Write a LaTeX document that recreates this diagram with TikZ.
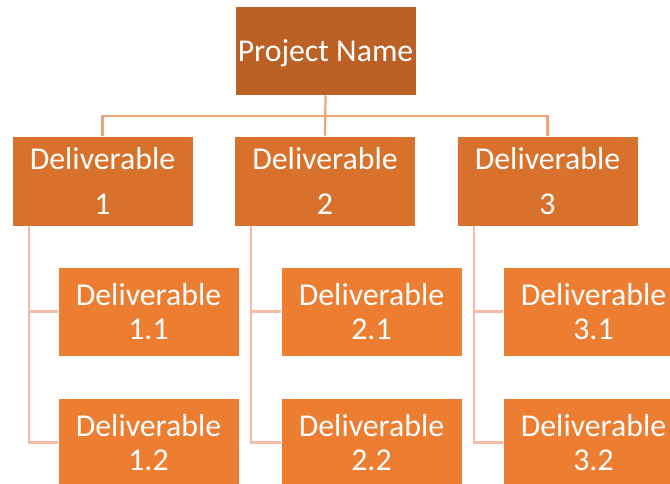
\documentclass[tikz,border=0pt]{standalone}
\usepackage{fontspec}
\setmainfont{Carlito}
\definecolor{rootc}{HTML}{BB6125}
\definecolor{lvlone}{HTML}{D8712B}
\definecolor{lvltwo}{HTML}{ED7D31}
\definecolor{conntop}{HTML}{F2A378}
\definecolor{connlow}{HTML}{F6BBA2}
\tikzset{
  box/.style={rectangle, draw=white, line width=0.8pt, text=white, align=center,
    minimum width=181pt, minimum height=89pt, inner sep=0pt},
  rootbox/.style={box, fill=rootc, text depth=0pt, font=\fontsize{31.8}{35}\selectfont},
  onebox/.style={box, fill=lvlone, minimum height=90pt, font=\fontsize{31.8}{45}\selectfont},
  twobox/.style={box, fill=lvltwo, font=\fontsize{31.8}{34}\selectfont},
  conn/.style={draw=conntop, line width=2.2pt},
  spine/.style={draw=connlow, line width=2.2pt}
}
\begin{document}
\begin{tikzpicture}[x=1pt,y=-1pt]
\useasboundingbox (0,0) rectangle (670,483);
\fill[white] (0,0) rectangle (670,483);
\coordinate (bus) at (325,116);
\coordinate (s1) at (29,226);
\coordinate (s2) at (251,226);
\coordinate (s3) at (474,226);
\node[rootbox] (root) at (325.5,50.5) {Project Name};
\node[onebox] (d1) at (102.5,181) {Deliverable\\1};
\node[onebox] (d2) at (325,181) {Deliverable\\2};
\node[onebox] (d3) at (547.5,181) {Deliverable\\3};
\node[twobox] (d11) at (148.5,311.5) {Deliverable\\1.1};
\node[twobox] (d12) at (148.5,442.5) {Deliverable\\1.2};
\node[twobox] (d21) at (371.5,311.5) {Deliverable\\2.1};
\node[twobox] (d22) at (371.5,442.5) {Deliverable\\2.2};
\node[twobox] (d31) at (593.5,311.5) {Deliverable\\3.1};
\node[twobox] (d32) at (593.5,442.5) {Deliverable\\3.2};
\draw[conn] (root.south) -- (d2.north);
\draw[conn] (d1.north) |- (bus) -| (d3.north);
\draw[spine] (s1) |- (d11.west);
\draw[spine] (s1) |- (d12.west);
\draw[spine] (s2) |- (d21.west);
\draw[spine] (s2) |- (d22.west);
\draw[spine] (s3) |- (d31.west);
\draw[spine] (s3) |- (d32.west);
\end{tikzpicture}
\end{document}
